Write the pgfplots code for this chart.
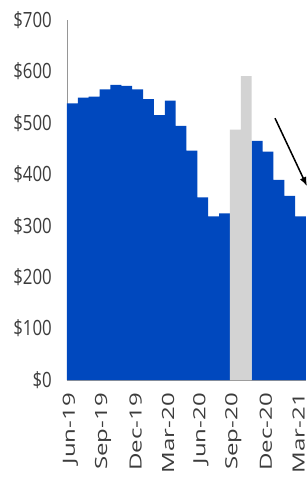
\documentclass[border=0pt]{standalone}
\usepackage{fontspec}
\setmainfont{Open Sans}
\usepackage{graphicx}
\usepackage{pgfplots}
\pgfplotsset{compat=1.18}
\usetikzlibrary{arrows.meta}
\definecolor{barblue}{RGB}{0,72,190}
\definecolor{bargray}{RGB}{211,211,211}
\definecolor{axisgray}{RGB}{150,150,150}
\definecolor{labelgray}{RGB}{60,60,60}
\newcommand{\xl}[1]{\scalebox{1}[0.7]{#1}}
\begin{document}
\begin{tikzpicture}
\begin{axis}[name=ax, scale only axis, width=239pt, height=360pt,
  xmin=0.5, xmax=22.5, ymin=0, ymax=700,
  axis x line=bottom, axis y line=left,
  axis line style={-, draw=axisgray, line width=0.8pt},
  ytick={0,100,...,700}, yticklabel={\scalebox{0.8}[1]{\$\pgfmathprintnumber{\tick}}},
  xtick={1,4,...,22},
  xticklabels={\xl{Jun-19},\xl{Sep-19},\xl{Dec-19},\xl{Mar-20},\xl{Jun-20},\xl{Sep-20},\xl{Dec-20},\xl{Mar-21}},
  major tick length=0pt,
  /pgf/number format/assume math mode=true,
  yticklabel style={font=\fontsize{21}{21}\selectfont, text=labelgray, anchor=east, inner sep=0pt, xshift=-15pt},
  xticklabel style={font=\fontsize{24}{24}\selectfont, text=labelgray, yshift=-13pt, xshift=-2pt, rotate=90, anchor=east, inner sep=0pt},
  ybar, bar width=1, bar shift=0pt, clip=false,
]
\addplot[fill=barblue, draw=none] coordinates {(1,538)(2,549)(3,551)(4,565)(5,574)(6,572)(7,565)(8,546)(9,515)(10,543)(11,494)(12,446)(13,355)(14,318)(15,324)(18,465)(19,444)(20,389)(21,358)(22,318)};
\addplot[fill=bargray, draw=none] coordinates {(16,487)(17,591)};
\draw[line width=1.5pt, -{Latex[length=9pt,width=7pt]}] (axis cs:19.65,509) -- (axis cs:22.59,377);
\end{axis}
\pgfresetboundingbox
\path[use as bounding box] ([shift={(-67pt,-105pt)}]ax.south west) rectangle ++(306pt,485pt);
\end{tikzpicture}
\end{document}
